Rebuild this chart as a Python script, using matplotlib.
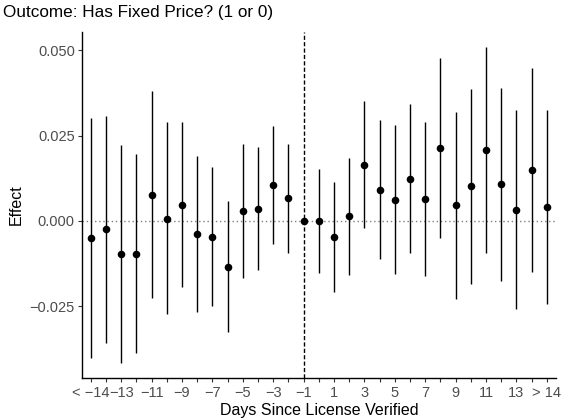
import matplotlib
matplotlib.use("Agg")
import matplotlib.pyplot as plt
import numpy as np

days = list(range(-15, 16))
estimate = [-0.0050, -0.0025, -0.0097, -0.0096, 0.0077, 0.0007, 0.0048, -0.0038, -0.0046, -0.0135,
            0.0028, 0.0036, 0.0105, 0.0067, 0.0000,
            0.0000, -0.0047, 0.0014, 0.0165, 0.0091, 0.0062, 0.0123, 0.0064, 0.0214, 0.0046,
            0.0101, 0.0208, 0.0108, 0.0033, 0.0149, 0.0040]
ci_low = [-0.0403, -0.0357, -0.0416, -0.0388, -0.0226, -0.0273, -0.0193, -0.0267, -0.0251, -0.0326,
          -0.0167, -0.0144, -0.0069, -0.0093, None,
          -0.0153, -0.0210, -0.0158, -0.0021, -0.0113, -0.0157, -0.0095, -0.0162, -0.0050, -0.0228,
          -0.0185, -0.0093, -0.0175, -0.0260, -0.0151, -0.0245]
ci_high = [0.0303, 0.0308, 0.0222, 0.0197, 0.0380, 0.0289, 0.0291, 0.0190, 0.0158, 0.0057,
           0.0225, 0.0218, 0.0278, 0.0227, None,
           0.0151, 0.0115, 0.0185, 0.0351, 0.0295, 0.0280, 0.0342, 0.0290, 0.0477, 0.0319,
           0.0388, 0.0509, 0.0391, 0.0326, 0.0449, 0.0324]
y_ticks = [-0.025, 0.0, 0.025, 0.05]
y_tick_labels = ["\u22120.025", "0.000", "0.025", "0.050"]

def day_label(d):
    if d == -15:
        return "< \u221214"
    if d == 15:
        return "> 14"
    if d % 2 == 0:
        return ""
    return str(d).replace("-", "\u2212")

x_labels = [day_label(d) for d in days]

plt.rcParams['font.family'] = ['Liberation Sans', 'DejaVu Sans']

fig = plt.figure(figsize=(5.66, 4.2), dpi=100)
ax = fig.add_axes([81.7/566, 1 - 377.7/420, (556 - 81.7)/566, (377.7 - 31.7)/420])

pos = np.arange(1, len(days) + 1)
for p, lo, hi in zip(pos, ci_low, ci_high):
    if lo is not None:
        ax.plot([p, p], [lo, hi], color="black", lw=1.0, solid_capstyle="butt", zorder=2)
ax.scatter(pos, estimate, s=30, color="black", zorder=3, linewidths=0)

ax.axhline(0, color="#7f7f7f", lw=1.0, ls=(0, (1, 2)), zorder=1)
ax.axvline(pos[days.index(-1)], color="black", lw=1.0, ls=(0, (3, 1.6)), zorder=1)

ax.set_xlim(0.4, len(days) + 0.6)
ymin, ymax = -0.0414, 0.0509
r = ymax - ymin
ax.set_ylim(ymin - 0.05 * r, ymax + 0.05 * r)

ax.set_xticks(pos)
ax.set_xticklabels(x_labels)
ax.set_yticks(y_ticks)
ax.set_yticklabels(y_tick_labels)

for s in ["top", "right"]:
    ax.spines[s].set_visible(False)
for s in ["left", "bottom"]:
    ax.spines[s].set_linewidth(1.0)
    ax.spines[s].set_color("black")
ax.tick_params(axis="both", colors="#333333", labelcolor="#4d4d4d", labelsize=10.5, length=3, width=0.8)
ax.tick_params(axis="x", pad=3)
ax.tick_params(axis="y", pad=2)

ax.set_xlabel("Days Since License Verified", fontsize=11.5, color="black", labelpad=2)
ax.set_ylabel("Effect", fontsize=11.5, color="black", labelpad=4)
fig.text(3/566, 1 - 13/420, "Outcome: Has Fixed Price? (1 or 0)", fontsize=12.3, color="black", va="center", ha="left")

fig.savefig("out.png", dpi=100)
